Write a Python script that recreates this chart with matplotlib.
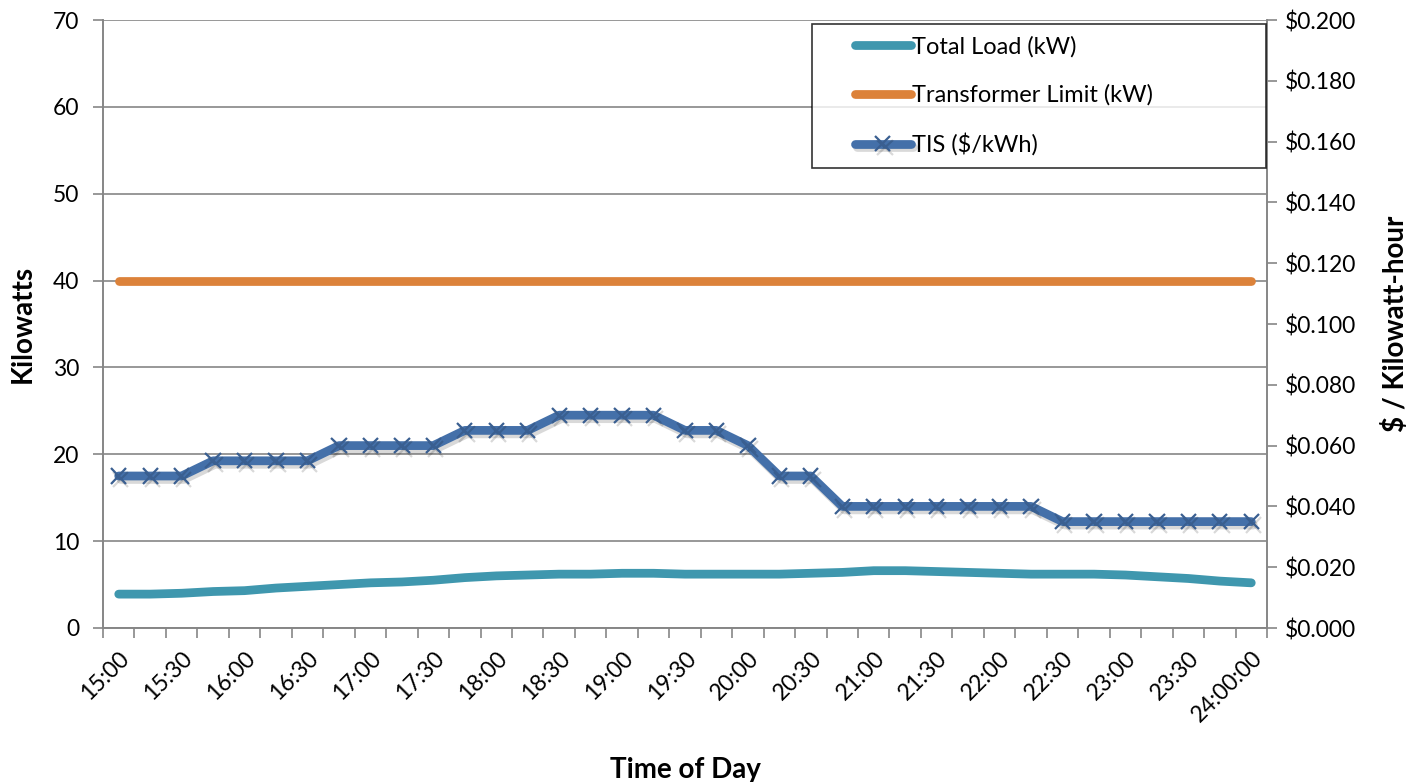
import matplotlib.pyplot as plt
import matplotlib.patheffects as pe
from matplotlib.legend_handler import HandlerLine2D
from matplotlib.ticker import FuncFormatter, MultipleLocator
import numpy as np

plt.rcParams['font.family'] = ['Lato', 'DejaVu Sans']

# 15-minute intervals from 15:00 to 24:00
slots = ["15:00", "15:15", "15:30", "15:45", "16:00", "16:15", "16:30", "16:45",
         "17:00", "17:15", "17:30", "17:45", "18:00", "18:15", "18:30", "18:45",
         "19:00", "19:15", "19:30", "19:45", "20:00", "20:15", "20:30", "20:45",
         "21:00", "21:15", "21:30", "21:45", "22:00", "22:15", "22:30", "22:45",
         "23:00", "23:15", "23:30", "23:45", "24:00:00"]

total_load = [3.9, 3.9, 4.0, 4.2, 4.3, 4.6, 4.8, 5.0, 5.2, 5.3, 5.5, 5.8, 6.0,
              6.1, 6.2, 6.2, 6.3, 6.3, 6.2, 6.2, 6.2, 6.2, 6.3, 6.4, 6.6, 6.6,
              6.5, 6.4, 6.3, 6.2, 6.2, 6.2, 6.1, 5.9, 5.7, 5.4, 5.2]
transformer_limit = [40] * 37
tis = [0.050, 0.050, 0.050, 0.055, 0.055, 0.055, 0.055, 0.060, 0.060, 0.060,
       0.060, 0.065, 0.065, 0.065, 0.070, 0.070, 0.070, 0.070, 0.065, 0.065,
       0.060, 0.050, 0.050, 0.040, 0.040, 0.040, 0.040, 0.040, 0.040, 0.040,
       0.035, 0.035, 0.035, 0.035, 0.035, 0.035, 0.035]

c_load = "#3F97AE"
c_limit = "#DC823A"
c_tis = "#4470A9"
c_axis = "#868686"

fig = plt.figure(figsize=(14.12, 7.82), dpi=100)
ax = fig.add_axes([103/1412, 1 - 628/782, (1267 - 103)/1412, (628 - 20)/782])
ax2 = ax.twinx()

x = np.arange(len(slots))
l1, = ax.plot(x, total_load, color=c_load, lw=6.3, solid_capstyle='round',
              label="Total Load (kW)", zorder=3)
l2, = ax.plot(x, transformer_limit, color=c_limit, lw=6.3, solid_capstyle='round',
              label="Transformer Limit (kW)", zorder=3)
l3, = ax2.plot(x, tis, color=c_tis, lw=6.3, solid_capstyle='round',
               marker='x', ms=11, mew=1.6, mec="#3A5F91",
               label="TIS ($/kWh)", zorder=3,
               path_effects=[pe.SimpleLineShadow(offset=(1.5, -2.5), alpha=0.15,
                                                 shadow_color='black'),
                             pe.Normal()])

ax.set_xlim(-0.5, len(slots) - 0.5)
ax.set_ylim(0, 70)
ax2.set_ylim(0, 0.2)
ax.yaxis.set_major_locator(MultipleLocator(10))
ax2.yaxis.set_major_locator(MultipleLocator(0.02))
ax2.yaxis.set_major_formatter(FuncFormatter(lambda v, p: "${:.3f}".format(v)))

ax.grid(axis='y', color=c_axis, lw=1.2)
ax.set_axisbelow(True)

ax.set_xticks(x[::2])
ax.set_xticklabels(slots[::2], rotation=45, ha='right', rotation_mode='anchor',
                   fontsize=16.5)
ax.set_xticks(np.arange(-0.5, len(slots)), minor=True)
ax.tick_params(axis='x', which='major', length=0, pad=14)
ax.tick_params(axis='x', which='minor', length=7, color=c_axis, width=1.2)
ax.tick_params(axis='y', length=7, color=c_axis, width=1.2, labelsize=16.5, pad=10)
ax2.tick_params(axis='y', length=7, color=c_axis, width=1.2, labelsize=16.5, pad=6)

for a in (ax, ax2):
    a.spines['top'].set_visible(False)
    for s in ('left', 'right', 'bottom'):
        a.spines[s].set_color(c_axis)
        a.spines[s].set_linewidth(1.2)

ax.set_ylabel("Kilowatts", fontsize=20, fontweight='bold', labelpad=12)
ax2.set_ylabel("$ / Kilowatt-hour", fontsize=20, fontweight='bold', labelpad=18)
ax.set_xlabel("Time of Day", fontsize=20, fontweight='bold', labelpad=22)

leg = ax2.legend(handles=[l1, l2, l3], loc='upper left',
                 bbox_to_anchor=(812/1412, 1 - 24/782, (1266 - 812)/1412, 0.0),
                 bbox_transform=fig.transFigure, borderaxespad=0, fontsize=17,
                 frameon=True, fancybox=False, edgecolor='black',
                 handlelength=3.7, handletextpad=0.05, labelspacing=1.15,
                 borderpad=0.5, mode='expand',
                 handler_map={l1: HandlerLine2D(xpad=1.3),
                              l2: HandlerLine2D(xpad=1.3),
                              l3: HandlerLine2D(xpad=1.3)})
leg.get_frame().set_linewidth(1.2)

fig.savefig("out.png", dpi=100)
